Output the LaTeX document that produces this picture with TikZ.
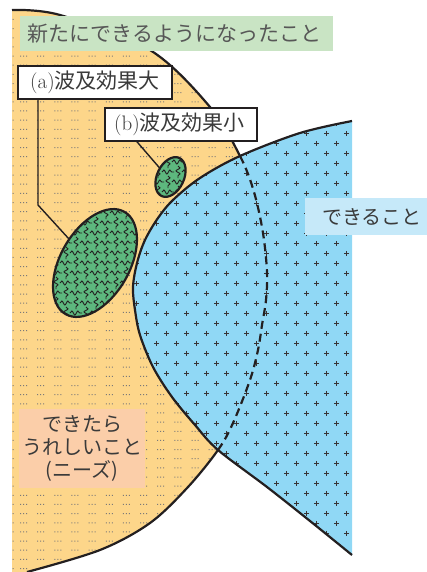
\documentclass[tikz,border=0pt]{standalone}
\usepackage{fontspec}
\newfontfamily\jp{Noto Sans CJK JP}
\usetikzlibrary{decorations.pathmorphing}
\definecolor{orangefill}{HTML}{FDD68A}
\definecolor{bluefill}{HTML}{90D8F5}
\definecolor{greenfill}{HTML}{5DB87E}
\definecolor{titlegreen}{HTML}{C9E4C4}
\definecolor{peach}{HTML}{FBCEA9}
\definecolor{lightblue}{HTML}{C6E9F9}
\definecolor{ink}{HTML}{231F20}
\definecolor{txt}{HTML}{3A3A3A}
\tikzset{
  outline/.style={draw=ink, line width=2.2pt},
  conn/.style={draw=ink, line width=1.4pt},
  wave/.style={draw=ink, line width=0.9pt, decorate, decoration={snake, segment length=6pt, amplitude=2pt}},
  plusmark/.style={draw=ink!90, line width=1pt},
  labelbox/.style={draw=ink, line width=1.6pt, fill=white, minimum height=33pt, inner sep=0pt, text=txt, font=\fontsize{21}{25}\selectfont},
}
\begin{document}
\begin{tikzpicture}[x=1pt,y=-1pt]
\useasboundingbox (0,0) rectangle (427,572);
\def\orangecurve{plot[smooth,tension=0.55] coordinates {(12,10) (60,15) (150,50) (210,107) (240,156) (254,192) (263,233) (267,272) (266,300) (262,325) (258,350) (250,380) (233,423) (218,450) (188,487) (150,523) (100,550) (27,572)}}
\def\bluecurve{plot[smooth,tension=0.55] coordinates {(352,121) (300,133) (240,156) (200,178) (173,200) (158,218) (145,240) (137,263) (133,287) (135,310) (140,335) (153,367) (172,397) (195,425) (218,450) (267,487) (310,521) (352,555)}}
% orange region
\fill[orangefill] \orangecurve -- (12,572) -- cycle;
\begin{scope}
\clip \orangecurve -- (12,572) -- cycle;
\fill[ink!60] \foreach \k in {0,...,61} {
  (12.5,{9.85+9.15*\k}) rectangle ++(1,1)
  \foreach \j in {0,...,15} {
    ({20+17.15*\j},{9.85+9.15*\k}) rectangle ++(1,1)
    ({23+17.15*\j},{9.85+9.15*\k}) rectangle ++(1,1)
    ({26+17.15*\j},{9.85+9.15*\k}) rectangle ++(1,1)
  }
};
\end{scope}
\draw[outline] \orangecurve;
% blue region
\fill[bluefill] \bluecurve -- cycle;
\begin{scope}
\clip \bluecurve -- cycle;
\foreach \k in {0,...,43} {
  \pgfmathsetmacro\xo{16.7-10*mod(\k,2)}
  \foreach \i in {5,...,17} {
    \draw[plusmark] ({\xo+20*\i-2.4},{123.3+10*\k}) -- ++(4.8,0)
                    ({\xo+20*\i},{123.3+10*\k-2.4}) -- ++(0,4.8);
  }
}
\draw[outline, dash pattern=on 8pt off 5pt] \orangecurve;
\end{scope}
\draw[outline] \bluecurve;
% big green ellipse
\begin{scope}
\clip[rotate around={60:(95,263)}] (95,263) ellipse [x radius=59, y radius=34.5];
\fill[greenfill] (30,200) rectangle (160,330);
\foreach \i in {0,...,13} {
  \foreach \j in {0,...,12} {
    \pgfmathtruncatemacro\wpar{mod(\i+\j,2)}
    \ifnum\wpar=0
      \draw[wave] ({46+10*\i-6},{203+10*\j}) -- ++(12,0);
    \else
      \draw[wave] ({46+10*\i},{203+10*\j-6}) -- ++(0,12);
    \fi
  }
}
\end{scope}
\draw[outline, rotate around={60:(95,263)}] (95,263) ellipse [x radius=59, y radius=34.5];
% small green ellipse
\begin{scope}
\clip[rotate around={65:(170.5,177)}] (170.5,177) ellipse [x radius=21, y radius=13.5];
\fill[greenfill] (140,150) rectangle (200,205);
\foreach \i in {0,...,5} {
  \foreach \j in {0,...,5} {
    \pgfmathtruncatemacro\wpar{mod(\i+\j,2)}
    \ifnum\wpar=0
      \draw[wave] ({148+10*\i-6},{152+10*\j}) -- ++(12,0);
    \else
      \draw[wave] ({148+10*\i},{152+10*\j-6}) -- ++(0,12);
    \fi
  }
}
\end{scope}
\draw[outline, rotate around={65:(170.5,177)}] (170.5,177) ellipse [x radius=21, y radius=13.5];
% labels
\node[fill=titlegreen, minimum width=313pt, minimum height=35pt, inner sep=0pt, text=txt!85,
      font=\fontsize{21}{25}\selectfont] (title) at (176.5,33.5) {\hspace*{-4pt}\jp 新たにできるようになったこと};
\node[labelbox, minimum width=154pt] (boxa) at (95,82.5) {(a)\jp 波及効果大};
\node[labelbox, minimum width=152pt] (boxb) at (181,124.5) {\hspace*{-3pt}(b)\jp 波及効果小};
\node[fill=lightblue, minimum width=122pt, minimum height=37pt, inner sep=0pt, text=txt,
      font=\fontsize{20}{24}\selectfont] (dekiru) at (366,216.5) {\hspace*{12pt}\jp できること};
\node[fill=peach, minimum width=126pt, minimum height=79pt, inner sep=0pt, text=txt, align=center,
      font=\fontsize{20}{23}\selectfont] (needs) at (82,448.5) {\jp できたら\\\jp うれしいこと\\\jp (ニーズ)};
% connectors
\coordinate (abend) at (38,205);
\coordinate (bigE) at (69,239);
\coordinate (bcol) at (137,0);
\coordinate (smallE) at (160.5,169);
\draw[conn] (boxa.south -| abend) -- (abend) -- (bigE);
\draw[conn] (boxb.south -| bcol) -- (smallE);
\end{tikzpicture}
\end{document}
